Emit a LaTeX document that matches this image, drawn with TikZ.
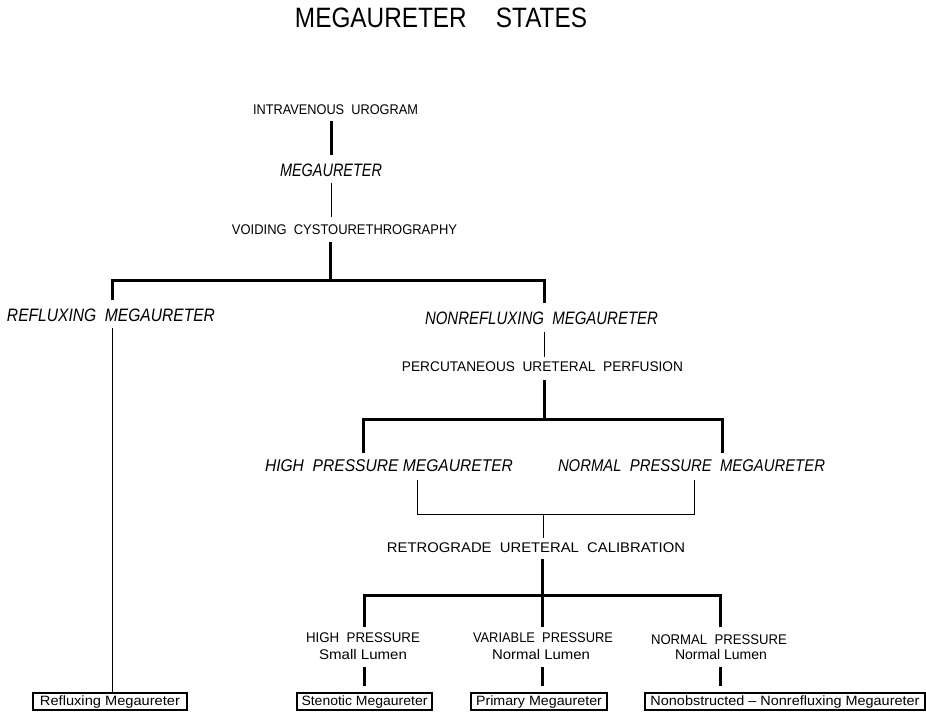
\documentclass[tikz,border=0pt]{standalone}
\usepackage{fontspec}
\setmainfont{Liberation Sans}
\usepackage{graphicx}
\newcommand\fitw[2]{\resizebox{#1pt}{\height}{#2}}
\begin{document}
\begin{tikzpicture}[x=1pt,y=-1pt,
  lbl/.style={inner sep=0pt, font=\fontsize{14}{14}\selectfont},
  ilbl/.style={inner sep=0pt, font=\fontsize{18}{18}\selectfont\itshape},
  ilbs/.style={inner sep=0pt, font=\fontsize{17}{17}\selectfont\itshape},
  ttl/.style={inner sep=0pt, font=\fontsize{28}{28}\selectfont},
  heavy/.style={line width=3pt},
  light/.style={line width=0.7pt},
  boxnode/.style={draw, line width=1.2pt, inner sep=0pt, minimum height=17pt,
    font=\fontsize{13.5}{13.5}\selectfont}]
\useasboundingbox (0,0) rectangle (926,715);
% texts
\node[ttl] (title) at (441,18) {\fitw{292}{MEGAURETER\hspace{1.2em}STATES}};
\node[lbl] (ivu) at (335.5,110) {\fitw{165}{INTRAVENOUS\ \ UROGRAM}};
\node[ilbl] (mega) at (331,170) {\fitw{102}{MEGAURETER}};
\node[lbl] (vcug) at (344.5,230) {\fitw{225}{VOIDING\ \ CYSTOURETHROGRAPHY}};
\node[ilbl] (reflux) at (111,315) {\fitw{208}{REFLUXING\ \ MEGAURETER}};
\node[ilbl] (nonreflux) at (541.5,318) {\fitw{233}{NONREFLUXING\ \ MEGAURETER}};
\node[lbl] (perc) at (542.5,367) {\fitw{281}{PERCUTANEOUS\ \ URETERAL\ \ PERFUSION}};
\node[ilbs] (hpm) at (389,466) {\fitw{248}{HIGH\ \ PRESSURE MEGAURETER}};
\node[ilbs] (npm) at (691.5,466) {\fitw{267}{NORMAL\ \ PRESSURE\ \ MEGAURETER}};
\node[lbl] (retro) at (536,548) {\fitw{298}{RETROGRADE\ \ URETERAL\ \ CALIBRATION}};
\node[lbl] (hp) at (363,638) {\fitw{114}{HIGH\ \ PRESSURE}};
\node[lbl] (sl) at (363,654) {\fitw{88}{Small Lumen}};
\node[lbl] (vp) at (543,638) {\fitw{140}{VARIABLE\ \ PRESSURE}};
\node[lbl] (nl1) at (541,654) {\fitw{98}{Normal Lumen}};
\node[lbl] (np) at (719,640) {\fitw{136}{NORMAL\ \ PRESSURE}};
\node[lbl] (nl2) at (721,654) {\fitw{92}{Normal Lumen}};
% boxes
\node[boxnode, minimum width=154] (b1) at (110,701.5) {\fitw{140}{Refluxing Megaureter}};
\node[boxnode, minimum width=135] (b2) at (364.5,701.5) {\fitw{126}{Stenotic Megaureter}};
\node[boxnode, minimum width=136] (b3) at (539,701.5) {\fitw{126}{Primary Megaureter}};
\node[boxnode, minimum width=280] (b4) at (785,701.5) {\fitw{269}{Nonobstructed -- Nonrefluxing Megaureter}};
% junctions
\coordinate (j1) at (330,280);
\coordinate (jL) at (112,280);
\coordinate (jR) at (544,280);
\coordinate (j2) at (544,419);
\coordinate (j2L) at (363,419);
\coordinate (j2R) at (722,419);
\coordinate (kL) at (417,514);
\coordinate (kR) at (694,514);
\coordinate (k) at (543,514);
\coordinate (j3) at (542,595);
\coordinate (j3L) at (364,595);
\coordinate (j3R) at (720,595);
% connectors
\draw[heavy, shorten <=6pt, shorten >=8pt] (mega.north |- ivu.south) -- (mega.north);
\draw[light, shorten <=6.5pt, shorten >=8pt] (mega.south) -- (mega.south |- vcug.north);
\draw[heavy, shorten <=7pt] (j1 |- vcug.south) -- (j1);
\draw[heavy, shorten <=8pt, shorten >=8pt] (jL |- reflux.north) -- (jL) -- (jR) -- (jR |- nonreflux.north);
\draw[light, shorten <=6pt] (jL |- reflux.south) -- (jL |- b1.north);
\draw[light, shorten <=7pt, shorten >=5pt] (jR |- nonreflux.south) -- (jR |- perc.north);
\draw[heavy, shorten <=8pt] (j2 |- perc.south) -- (j2);
\draw[heavy, shorten <=7pt, shorten >=7pt] (j2L |- hpm.north) -- (j2L) -- (j2R) -- (j2R |- npm.north);
\draw[light, shorten <=8pt, shorten >=8pt] (kL |- hpm.south) -- (kL) -- (kR) -- (kR |- npm.south);
\draw[light, shorten >=5pt] (k) -- (k |- retro.north);
\draw[heavy, shorten <=6pt] (j3 |- retro.south) -- (j3);
\draw[heavy, shorten <=6pt, shorten >=8pt] (j3L |- hp.north) -- (j3L) -- (j3R) -- (j3R |- np.north);
\draw[heavy, shorten >=6pt] (j3) -- (j3 |- vp.north);
\draw[heavy, shorten <=8pt, shorten >=6pt] (j3L |- sl.south) -- (j3L |- b2.north);
\draw[heavy, shorten <=8pt, shorten >=6pt] (j3 |- nl1.south) -- (j3 |- b3.north);
\draw[heavy, shorten <=8pt, shorten >=6pt] (j3R |- nl2.south) -- (j3R |- b4.north);
\end{tikzpicture}
\end{document}
